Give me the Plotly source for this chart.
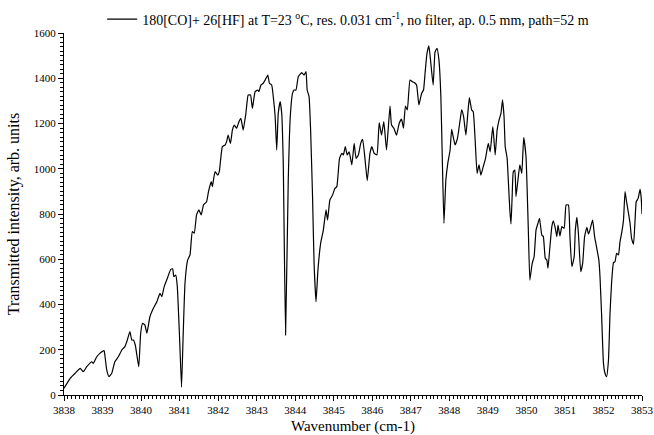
import plotly.graph_objects as go

wavenumber = [
    3838.00, 3838.16, 3838.29, 3838.42, 3838.50, 3838.59, 3838.72, 3838.76, 3838.85, 3838.93,
    3839.04, 3839.06, 3839.11, 3839.17, 3839.24, 3839.32, 3839.41, 3839.50, 3839.58, 3839.63,
    3839.71, 3839.76, 3839.80, 3839.85, 3839.94, 3839.99, 3840.04, 3840.10, 3840.15, 3840.23,
    3840.32, 3840.41, 3840.49, 3840.54, 3840.60, 3840.68, 3840.77, 3840.82, 3840.85, 3840.90,
    3840.94, 3841.00, 3841.05, 3841.09, 3841.14, 3841.21, 3841.27, 3841.33, 3841.38, 3841.44,
    3841.50, 3841.56, 3841.62, 3841.70, 3841.75, 3841.82, 3841.85, 3841.92, 3841.99, 3842.03,
    3842.11, 3842.18, 3842.22, 3842.26, 3842.32, 3842.37, 3842.42, 3842.48, 3842.54, 3842.59,
    3842.65, 3842.72, 3842.78, 3842.84, 3842.89, 3842.96, 3843.03, 3843.06, 3843.11, 3843.17,
    3843.22, 3843.29, 3843.33, 3843.39, 3843.44, 3843.48, 3843.52, 3843.56, 3843.61, 3843.65,
    3843.69, 3843.75, 3843.82, 3843.87, 3843.93, 3843.97, 3844.02, 3844.08, 3844.17, 3844.23,
    3844.28, 3844.31, 3844.36, 3844.40, 3844.45, 3844.49, 3844.54, 3844.59, 3844.66, 3844.73,
    3844.80, 3844.84, 3844.90, 3844.97, 3845.03, 3845.08, 3845.15, 3845.21, 3845.25, 3845.30,
    3845.35, 3845.40, 3845.47, 3845.53, 3845.58, 3845.64, 3845.70, 3845.75, 3845.81, 3845.87,
    3845.94, 3845.99, 3846.05, 3846.12, 3846.18, 3846.24, 3846.30, 3846.37, 3846.46, 3846.50,
    3846.56, 3846.63, 3846.70, 3846.76, 3846.81, 3846.86, 3846.91, 3846.98, 3847.04, 3847.09,
    3847.15, 3847.21, 3847.28, 3847.33, 3847.37, 3847.42, 3847.47, 3847.52, 3847.58, 3847.63,
    3847.68, 3847.73, 3847.78, 3847.82, 3847.86, 3847.91, 3847.96, 3848.02, 3848.06, 3848.10,
    3848.15, 3848.21, 3848.28, 3848.32, 3848.37, 3848.43, 3848.48, 3848.52, 3848.58, 3848.62,
    3848.67, 3848.72, 3848.77, 3848.82, 3848.88, 3848.94, 3849.01, 3849.06, 3849.10, 3849.13,
    3849.19, 3849.24, 3849.29, 3849.34, 3849.38, 3849.42, 3849.45, 3849.50, 3849.53, 3849.57,
    3849.60, 3849.63, 3849.66, 3849.70, 3849.73, 3849.79, 3849.83, 3849.88, 3849.93, 3849.99,
    3850.02, 3850.05, 3850.09, 3850.15, 3850.20, 3850.25, 3850.30, 3850.34, 3850.40, 3850.44,
    3850.49, 3850.53, 3850.56, 3850.61, 3850.66, 3850.70, 3850.75, 3850.79, 3850.82, 3850.87,
    3850.92, 3850.98, 3851.03, 3851.09, 3851.13, 3851.18, 3851.24, 3851.27, 3851.31, 3851.35,
    3851.41, 3851.46, 3851.51, 3851.57, 3851.61, 3851.65, 3851.68, 3851.72, 3851.77, 3851.82,
    3851.88, 3851.91, 3851.95, 3852.00, 3852.04, 3852.08, 3852.13, 3852.17, 3852.21, 3852.26,
    3852.30, 3852.34, 3852.39, 3852.43, 3852.47, 3852.52, 3852.56, 3852.60, 3852.65, 3852.69,
    3852.73, 3852.78, 3852.82, 3852.85, 3852.90, 3852.95, 3852.98, 3853.00,
]

intensity = [
    30, 74, 96, 118, 103, 125, 147, 140, 169, 184,
    196, 177, 110, 81, 96, 147, 169, 199, 214, 236,
    280, 243, 243, 221, 125, 273, 317, 309, 273, 346,
    383, 412, 449, 435, 479, 515, 555, 558, 523, 530,
    480, 250, 35, 250, 494, 597, 619, 722, 715, 796,
    818, 796, 840, 854, 899, 943, 921, 987, 972, 987,
    1098, 1105, 1120, 1149, 1112, 1171, 1193, 1179, 1208, 1223,
    1171, 1245, 1326, 1326, 1267, 1341, 1348, 1341, 1370, 1378,
    1392, 1414, 1378, 1370, 1304, 1230, 1083, 1245, 1297, 1245,
    1024, 265, 950, 1223, 1333, 1348, 1348, 1407, 1425, 1414,
    1429, 1348, 1319, 1171, 877, 582, 412, 552, 670, 729,
    818, 773, 862, 884, 913, 921, 1046, 1068, 1061, 1098,
    1061, 1075, 1017, 1112, 1046, 1061, 1112, 1130, 1046, 947,
    1068, 1098, 1068, 1061, 1204, 1149, 1208, 1083, 1277, 1193,
    1179, 1149, 1201, 1219, 1179, 1277, 1260, 1392, 1385, 1381,
    1370, 1282, 1333, 1348, 1422, 1510, 1543, 1466, 1370, 1517,
    1532, 1481, 1319, 1024, 759, 950, 1024, 1083, 1174, 1142,
    1105, 1134, 1215, 1260, 1230, 1149, 1245, 1314, 1260, 1252,
    1127, 980, 1017, 972, 1009, 1046, 1112, 1075, 1142, 1186,
    1061, 1171, 1215, 1245, 1304, 1230, 1098, 1046, 950, 818,
    756, 877, 987, 994, 877, 965, 1017, 980, 1138, 1053,
    906, 729, 508, 582, 611, 729, 759, 781, 707, 700,
    604, 597, 560, 655, 744, 770, 737, 700, 751, 703,
    744, 737, 840, 840, 700, 567, 611, 729, 785, 714,
    545, 582, 700, 741, 712, 729, 751, 773, 700, 655,
    597, 523, 361, 140, 96, 81, 155, 361, 494, 585,
    589, 626, 619, 678, 714, 773, 899, 854, 803, 759,
    692, 667, 773, 854, 869, 909, 870, 800,
]

legend_label = ("180[CO]+ 26[HF] at T=23 <sup>o</sup>C, res. 0.031 cm<sup>-1</sup>, "
                "no filter, ap. 0.5 mm, path=52 m")
x_title = "Wavenumber (cm-1)"
y_title = "Transmitted intensity, arb. units"

FONT = "Liberation Serif, Times New Roman, serif"

fig = go.Figure()
fig.add_trace(go.Scatter(
    x=wavenumber, y=intensity, mode="lines", name=legend_label,
    line=dict(color="black", width=1.2, shape="spline", smoothing=0.4),
))

fig.update_layout(
    width=654, height=435,
    margin=dict(l=64, r=12, t=33, b=40, autoexpand=False),
    paper_bgcolor="white", plot_bgcolor="white",
    font=dict(family=FONT, color="black", size=11),
    showlegend=True,
    legend=dict(x=0.066, y=1.037, xanchor="left", yanchor="middle",
                font=dict(family=FONT, size=14, color="black"),
                bgcolor="rgba(0,0,0,0)", itemwidth=30),
)
fig.update_xaxes(
    range=[3838, 3853], dtick=1, tick0=3838, tickangle=0,
    showline=True, linecolor="black", linewidth=1, mirror=False,
    showgrid=False, zeroline=False, automargin=False,
    ticks="outside", ticklen=5, tickcolor="black",
    minor=dict(dtick=0.1, ticks="outside", ticklen=3, tickcolor="black", showgrid=False),
    tickfont=dict(family=FONT, size=11),
    title=dict(text=x_title, font=dict(family=FONT, size=15), standoff=7),
)
fig.update_yaxes(
    range=[0, 1600], dtick=200,
    showline=True, linecolor="black", linewidth=1, mirror=False,
    showgrid=False, zeroline=False, automargin=False,
    ticks="outside", ticklen=5, tickcolor="black",
    minor=dict(dtick=20, ticks="outside", ticklen=3, tickcolor="black", showgrid=False),
    tickfont=dict(family=FONT, size=11),
    title=dict(text=y_title, font=dict(family=FONT, size=16), standoff=10),
)

# remove the default 8px page margin so the 654x435 figure fills the window exactly
fig.write_html("out.html", config={"displayModeBar": False},
               post_script="document.body.style.margin='0';")
